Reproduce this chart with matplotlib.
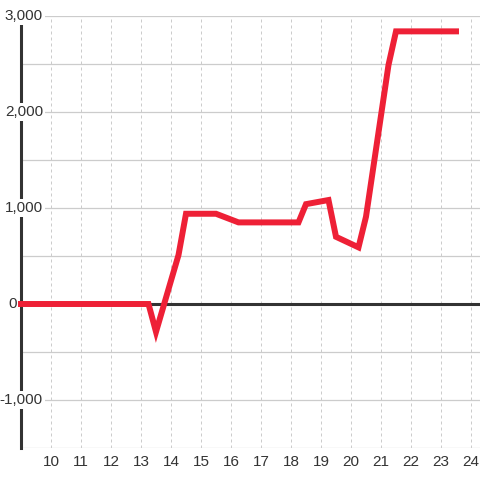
import matplotlib
matplotlib.use("Agg")
import matplotlib.pyplot as plt
import matplotlib.transforms as mtransforms

plt.rcParams['font.family'] = ['Liberation Sans', 'DejaVu Sans']

# data
hours = [9, 13.25, 13.5, 14.25, 14.5, 15.5, 16.25, 18.25, 18.5, 19.25, 19.5,
         20.25, 20.5, 21.25, 21.5, 23.5]
values = [0, 0, -290, 510, 940, 940, 850, 850, 1040, 1083, 700,
          590, 909, 2490, 2840, 2840]
x_ticks = list(range(10, 25))
y_grid = [-1500, -1000, -500, 0, 500, 1000, 1500, 2000, 2500, 3000]
y_labels = {-1000: "-1,000", 0: "0", 1000: "1,000", 2000: "2,000", 3000: "3,000"}

RED = "#EE2036"
DARK = "#333333"
GRID = "#cccccc"

fig = plt.figure(figsize=(4.8, 4.8), dpi=100)
ax = fig.add_axes([21/480, 32/480, 459/480, 432/480])
ax.set_xlim(9, 24.3)
ax.set_ylim(-1500, 3000)

for s in ['top', 'right', 'bottom']:
    ax.spines[s].set_visible(False)
ax.spines['left'].set_color(DARK)
ax.spines['left'].set_linewidth(2.2)
ax.spines['left'].set_zorder(3)

# gridlines
for yv in y_grid:
    if yv == 0:
        continue
    ax.axhline(yv, color=GRID, lw=0.9, zorder=1)
for xv in x_ticks:
    ax.axvline(xv, color=GRID, lw=0.72, ls=(0, (3, 3)), zorder=1)
ax.axhline(0, color=DARK, lw=2.2, zorder=2)

ax.set_xticks(x_ticks)
ax.set_xticklabels([str(v) for v in x_ticks])
ax.tick_params(axis='x', length=0, pad=5, labelsize=11, labelcolor=DARK)
ax.set_yticks([])

# y labels with white backgrounds, over spine
trans = ax.get_yaxis_transform()
for yv, lab in y_labels.items():
    if len(lab) == 1:
        off = mtransforms.offset_copy(trans, fig=fig, x=-4, y=0, units='dots')
    else:
        off = mtransforms.offset_copy(trans, fig=fig, x=22, y=0, units='dots')
    ax.text(0, yv, lab, transform=off, ha='right', va='center', fontsize=11,
            color=DARK, zorder=4, clip_on=False,
            bbox=dict(boxstyle='square,pad=0.15', fc='white', ec='none'))

ax.plot(hours, values, color=RED, lw=4.3, solid_joinstyle='miter',
        solid_capstyle='projecting', zorder=5, clip_on=False)

fig.savefig("out.png", dpi=100)
